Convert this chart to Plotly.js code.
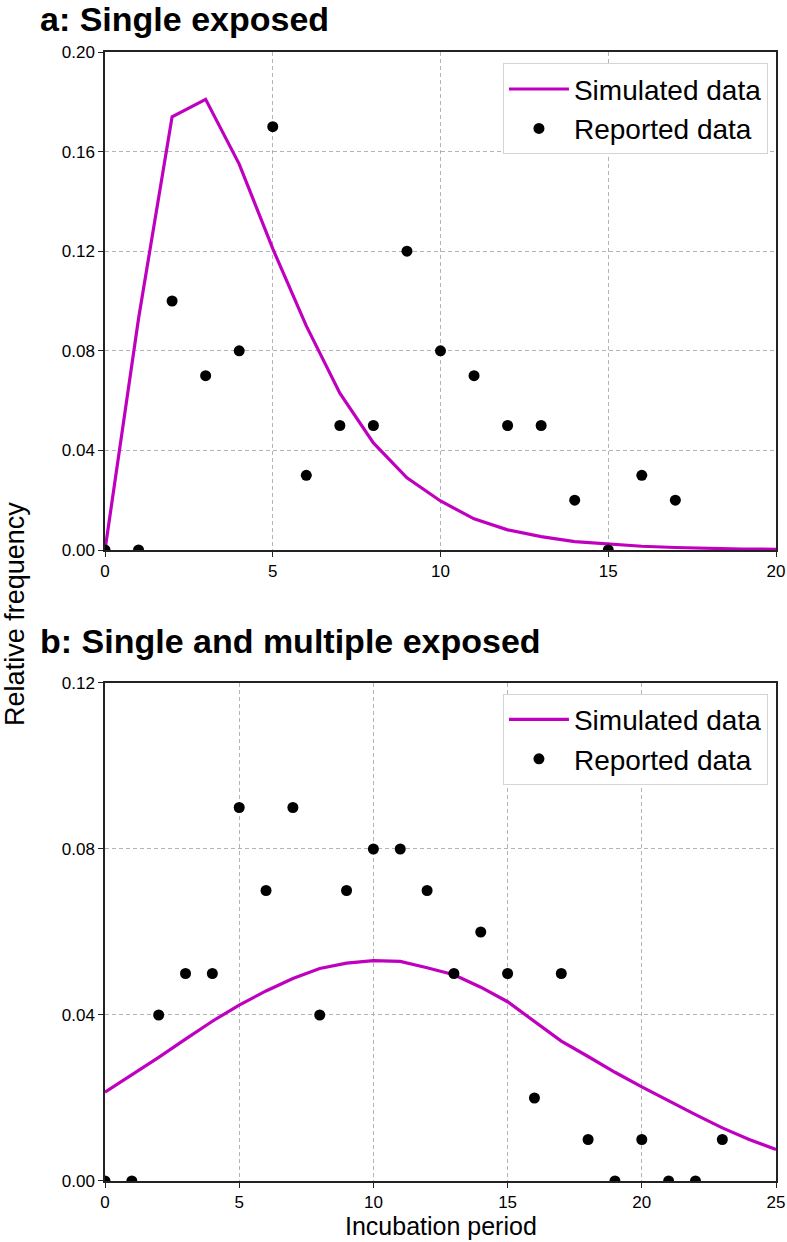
<!DOCTYPE html>
<html>
<head>
<meta charset="utf-8">
<script src="https://cdn.plot.ly/plotly-3.0.1.min.js"></script>
<style>
  html, body { margin: 0; padding: 0; background: #fff; }
  #plot { width: 787px; height: 1242px; }
</style>
</head>
<body>
<div id="plot"></div>
<script>
// panel a: single exposed
var daysA = [0,1,2,3,4,5,6,7,8,9,10,11,12,13,14,15,16,17,18,19,20];
var simA = [0.0,0.093,0.174,0.181,0.155,0.121,0.090,0.063,0.043,0.029,0.0197,0.0125,0.0081,0.0054,0.0034,0.0023,0.0015,0.0010,0.0006,0.0004,0.0003];
var repDaysA = [0,1,2,3,4,5,6,7,8,9,10,11,12,13,14,15,16,17];
var repA = [0,0,0.10,0.07,0.08,0.17,0.03,0.05,0.05,0.12,0.08,0.07,0.05,0.05,0.02,0,0.03,0.02];

// panel b: single and multiple exposed
var daysB = [0,1,2,3,4,5,6,7,8,9,10,11,12,13,14,15,16,17,18,19,20,21,22,23,24,25];
var simB = [0.0214,0.0255,0.0298,0.0342,0.0385,0.0424,0.0458,0.0488,0.0512,0.0525,0.0531,0.0529,0.0514,0.0497,0.0467,0.0432,0.0385,0.0337,0.0300,0.0262,0.0227,0.0193,0.0160,0.0128,0.0100,0.0076];
var repDaysB = [0,1,2,3,4,5,6,7,8,9,10,11,12,13,14,15,16,17,18,19,20,21,22,23];
var repB = [0,0,0.04,0.05,0.05,0.09,0.07,0.09,0.04,0.07,0.08,0.08,0.07,0.05,0.06,0.05,0.02,0.05,0.01,0,0.01,0,0,0.01];

var magenta = "#bf00bf";
var font = "Liberation Sans, Arial, sans-serif";

var traces = [
  {x: daysA, y: simA, mode: "lines", name: "Simulated data",
   line: {color: magenta, width: 3.2}, xaxis: "x", yaxis: "y", legend: "legend"},
  {x: repDaysA, y: repA, mode: "markers", name: "Reported data",
   marker: {color: "#000", size: 11}, xaxis: "x", yaxis: "y", legend: "legend"},
  {x: daysB, y: simB, mode: "lines", name: "Simulated data",
   line: {color: magenta, width: 3.2}, xaxis: "x2", yaxis: "y2", legend: "legend2"},
  {x: repDaysB, y: repB, mode: "markers", name: "Reported data",
   marker: {color: "#000", size: 11}, xaxis: "x2", yaxis: "y2", legend: "legend2"}
];

function axis(extra) {
  var a = {
    showline: true, mirror: true, linecolor: "#222", linewidth: 1.5,
    ticks: "outside", ticklen: 5, tickcolor: "#222",
    showgrid: true, gridcolor: "#b4b4b4", griddash: "4px,3px", gridwidth: 1,
    zeroline: false, ticklabeloverflow: "allow",
    tickfont: {family: font, size: 17, color: "#000"}
  };
  for (var k in extra) a[k] = extra[k];
  return a;
}

var legendStyle = {
  xanchor: "right", yanchor: "top",
  bgcolor: "#fff", bordercolor: "#d4d4d4", borderwidth: 1,
  itemwidth: 60,
  font: {family: font, size: 28, color: "#000"}
};

var layout = {
  width: 787, height: 1242,
  margin: {l: 105, r: 11, t: 52, b: 61},
  paper_bgcolor: "#fff", plot_bgcolor: "#fff",
  xaxis: axis({range: [0, 20], dtick: 5, anchor: "y"}),
  yaxis: axis({range: [0, 0.2], dtick: 0.04, tickformat: ".2f", domain: [0.5589, 1], anchor: "x"}),
  xaxis2: axis({range: [0, 25], dtick: 5, anchor: "y2"}),
  yaxis2: axis({range: [0, 0.12], dtick: 0.04, tickformat: ".2f", domain: [0, 0.4411], anchor: "x2"}),
  legend: Object.assign({x: 0.988, y: 0.99}, legendStyle),
  legend2: Object.assign({x: 0.988, y: 0.4316}, legendStyle),
  annotations: [
    {text: "<b>a: Single exposed</b>", xref: "paper", yref: "paper",
     x: -0.1, y: 1.0294, xanchor: "left", yanchor: "middle", showarrow: false,
     font: {family: font, size: 34, color: "#000"}},
    {text: "<b>b: Single and multiple exposed</b>", xref: "paper", yref: "paper",
     x: -0.1, y: 0.4783, xanchor: "left", yanchor: "middle", showarrow: false,
     font: {family: font, size: 34, color: "#000"}},
    {text: "Relative frequency", xref: "paper", yref: "paper",
     x: -0.1343, y: 0.5022, xanchor: "center", yanchor: "middle", textangle: -90, showarrow: false,
     font: {family: font, size: 27, color: "#000"}},
    {text: "Incubation period", xref: "paper", yref: "paper",
     x: 0.5, y: -0.0398, xanchor: "center", yanchor: "middle", showarrow: false,
     font: {family: font, size: 25, color: "#000"}}
  ]
};

Plotly.newPlot("plot", traces, layout, {displayModeBar: false});
</script>
</body>
</html>
